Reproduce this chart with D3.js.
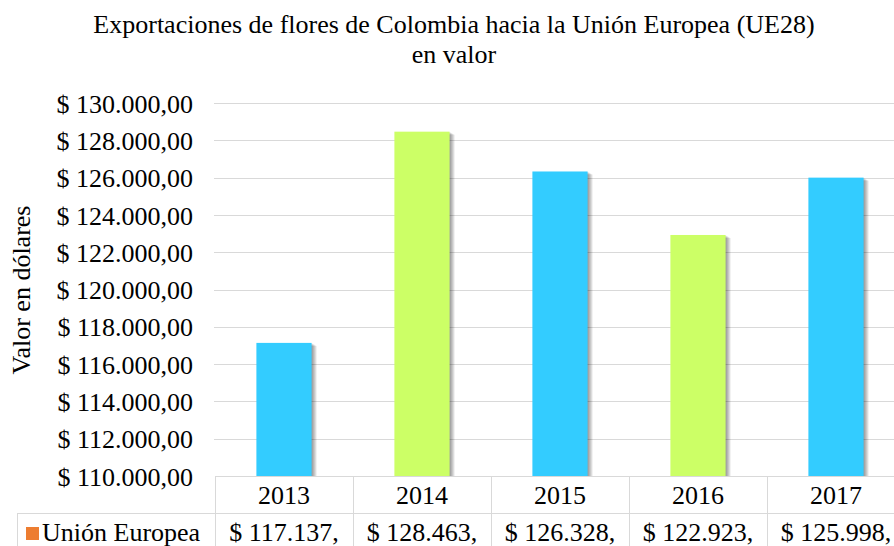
<!DOCTYPE html>
<html>
<head>
<meta charset="utf-8">
<script src="https://cdn.jsdelivr.net/npm/d3@7"></script>
</head>
<body style="margin:0">
<script>
// Data
const years = ['2013', '2014', '2015', '2016', '2017'];
const values = [117137, 128463, 126328, 122923, 125998];
const barColors = ['#33ccff', '#ccff66', '#33ccff', '#ccff66', '#33ccff'];
const tableLabels = ['$ 117.137,', '$ 128.463,', '$ 126.328,', '$ 122.923,', '$ 125.998,'];
const seriesName = 'Unión Europea';
const yTicks = d3.range(110000, 130001, 2000);

const width = 894, height = 546;
const plot = { left: 215, right: 905, top: 103, bottom: 476 };
const gridColor = '#d9d9d9';
const fontName = 'Liberation Serif';

const es = d3.formatLocale({ decimal: ',', thousands: '.', grouping: [3], currency: ['$ ', ''] });
const fmt = es.format('$,.2f');

const svg = d3.select('body')
    .append('svg')
    .attr('width', width)
    .attr('height', height);

// Scales
const x = d3.scaleBand()
    .domain(years)
    .range([plot.left, plot.right])
    .paddingInner(0.6)
    .paddingOuter(0.3);

const y = d3.scaleLinear()
    .domain([110000, 130000])
    .range([plot.bottom, plot.top]);

function txt(sel) {
    return sel.attr('font-family', fontName).attr('font-size', 26).attr('fill', '#000');
}

// Title
txt(svg.append('text'))
    .attr('x', 454).attr('y', 33)
    .attr('text-anchor', 'middle')
    .text('Exportaciones de flores de Colombia hacia la Unión Europea (UE28)');
txt(svg.append('text'))
    .attr('x', 454).attr('y', 63)
    .attr('text-anchor', 'middle')
    .text('en valor');

// Gridlines
svg.append('g')
    .selectAll('line')
    .data(yTicks.slice(1))
    .join('line')
    .attr('x1', plot.left - 1).attr('x2', width)
    .attr('y1', d => Math.round(y(d)) + 0.5)
    .attr('y2', d => Math.round(y(d)) + 0.5)
    .attr('stroke', gridColor);

// Y axis labels
const yAxis = svg.append('g')
    .attr('transform', `translate(${plot.left - 22},0)`)
    .call(d3.axisLeft(y).tickValues(yTicks).tickFormat(fmt).tickSize(0).tickPadding(0));
yAxis.select('.domain').remove();
txt(yAxis.selectAll('text')).attr('dy', '0.35em');

txt(svg.append('text'))
    .attr('transform', 'translate(30,290) rotate(-90)')
    .attr('text-anchor', 'middle')
    .text('Valor en dólares');

// Soft shadow behind bars (stacked translucent rects)
const shadowSteps = [1, 2, 3, 4, 5];
const shadow = svg.append('g');
shadowSteps.forEach(s => {
    shadow.append('g')
        .selectAll('rect')
        .data(values)
        .join('rect')
        .attr('x', (d, i) => x(years[i]) + s)
        .attr('y', d => y(d) + s * 0.6)
        .attr('width', x.bandwidth())
        .attr('height', d => y(110000) - y(d) - s * 0.6)
        .attr('fill', '#000')
        .attr('opacity', 0.09);
});

// Bars
svg.append('g')
    .selectAll('rect')
    .data(values)
    .join('rect')
    .attr('x', (d, i) => x(years[i]))
    .attr('y', d => y(d))
    .attr('width', x.bandwidth())
    .attr('height', d => y(110000) - y(d))
    .attr('fill', (d, i) => barColors[i]);

// Data table
const rowTop = plot.bottom, rowMid = 513, rowBot = 560;
const table = svg.append('g').attr('stroke', gridColor).attr('fill', 'none');
table.append('line')
    .attr('x1', plot.left).attr('x2', width)
    .attr('y1', rowTop + 0.5).attr('y2', rowTop + 0.5);
table.append('line')
    .attr('x1', 17).attr('x2', width)
    .attr('y1', rowMid + 0.5).attr('y2', rowMid + 0.5);
table.append('line')
    .attr('x1', 17.5).attr('x2', 17.5)
    .attr('y1', rowMid).attr('y2', rowBot);
table.selectAll('.col')
    .data(d3.range(years.length + 1))
    .join('line')
    .attr('class', 'col')
    .attr('x1', i => Math.round(plot.left + i * x.step()) + 0.5)
    .attr('x2', i => Math.round(plot.left + i * x.step()) + 0.5)
    .attr('y1', rowTop).attr('y2', rowBot);

txt(svg.append('g')
    .selectAll('text')
    .data(years)
    .join('text'))
    .attr('x', d => x(d) + x.bandwidth() / 2)
    .attr('y', 504)
    .attr('text-anchor', 'middle')
    .text(d => d);

txt(svg.append('g')
    .selectAll('text')
    .data(tableLabels)
    .join('text'))
    .attr('x', (d, i) => x(years[i]) + x.bandwidth() / 2)
    .attr('y', 541)
    .attr('text-anchor', 'middle')
    .text(d => d);

// Legend key inside table
svg.append('rect')
    .attr('x', 26).attr('y', 527)
    .attr('width', 13).attr('height', 13)
    .attr('fill', '#ed7d31');
txt(svg.append('text'))
    .attr('x', 42).attr('y', 541)
    .text(seriesName);
</script>
</body>
</html>
